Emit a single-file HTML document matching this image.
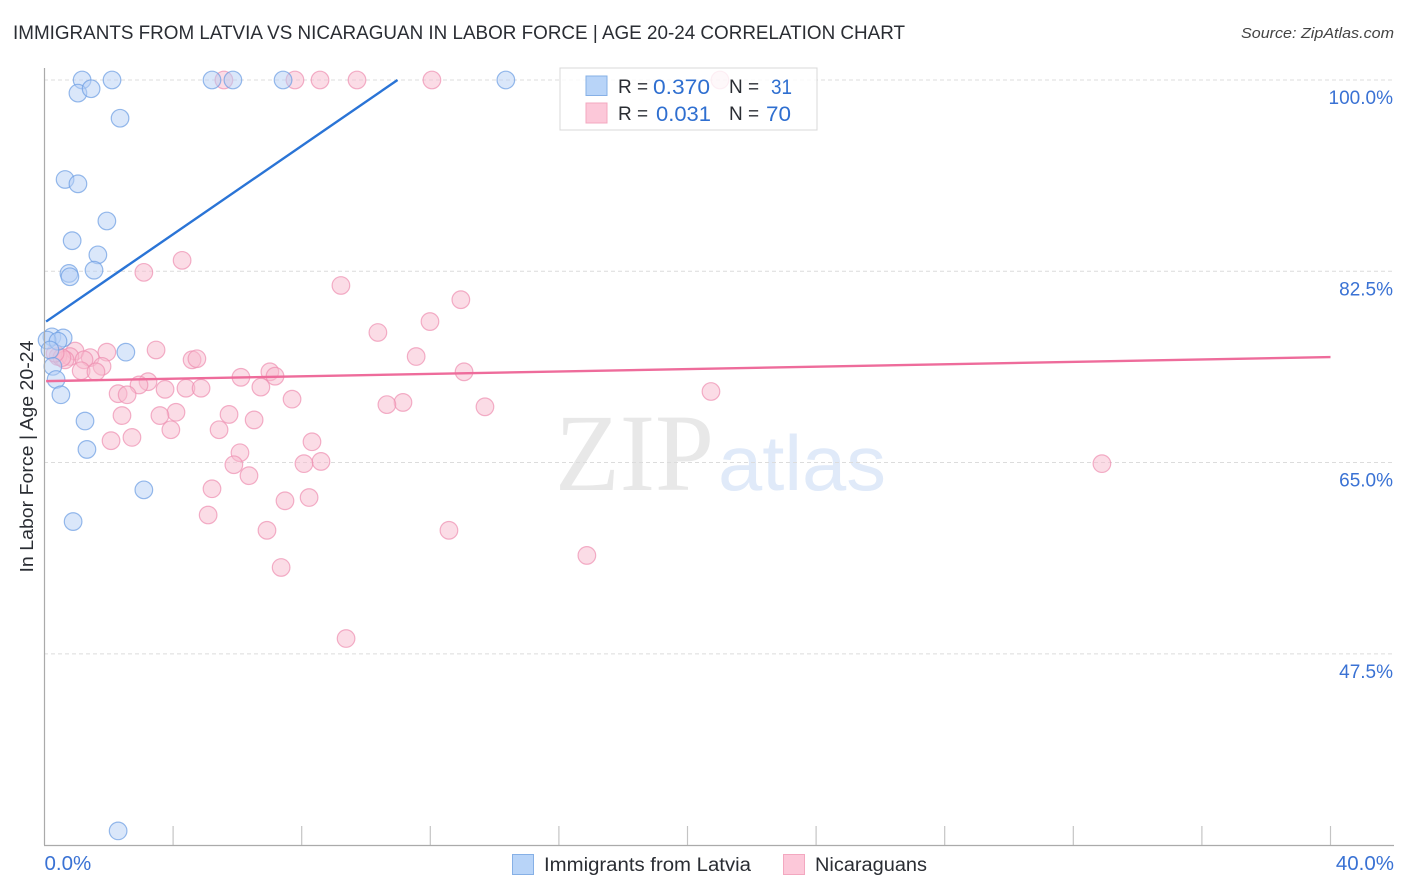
<!DOCTYPE html>
<html><head><meta charset="utf-8"><title>Immigrants from Latvia vs Nicaraguan in Labor Force</title>
<style>
html,body{margin:0;padding:0;background:#fff;}
svg{display:block;font-family:"Liberation Sans",sans-serif;}
</style></head>
<body>
<svg id="chart" width="1406" height="892" viewBox="0 0 1406 892" xmlns="http://www.w3.org/2000/svg">
<rect x="0" y="0" width="1406" height="892" fill="#fff"/>
<text x="13" y="39" font-size="19" fill="#2a2d33" textLength="892" lengthAdjust="spacingAndGlyphs">IMMIGRANTS FROM LATVIA VS NICARAGUAN IN LABOR FORCE | AGE 20-24 CORRELATION CHART</text>
<text x="1241" y="38" font-size="15" font-style="italic" fill="#444" textLength="153" lengthAdjust="spacingAndGlyphs">Source: ZipAtlas.com</text>
<text x="555" y="490" font-family="'Liberation Serif',serif" font-size="110" fill="#e8e8e8" textLength="159" lengthAdjust="spacingAndGlyphs">ZIP</text>
<text x="718" y="490" font-family="'Liberation Sans',sans-serif" font-size="78" fill="#e0eaf9" textLength="168" lengthAdjust="spacingAndGlyphs">atlas</text>
<g id="grid"></g>
<g id="pink-layer"></g>
<g id="blue-layer"></g>
<g id="trend-layer"></g>
<g id="axes"></g>
<text transform="translate(33,456.5) rotate(-90)" text-anchor="middle" font-size="18" fill="#2a2d33" textLength="232" lengthAdjust="spacingAndGlyphs">In Labor Force | Age 20-24</text>
<g>
<rect x="560" y="68" width="257" height="62" fill="#fff" fill-opacity="0.8" stroke="#d8d8d8" stroke-width="1"/>
<rect x="586" y="76" width="21" height="19.5" fill="#b8d4f8" stroke="#86b0e6"/>
<rect x="586" y="103" width="21" height="20" fill="#fcc8d9" stroke="#f3a8c0"/>
<text x="618" y="93" font-size="19" fill="#2a2d33">R =</text>
<text x="653" y="94" font-size="21" fill="#2f6fd0" textLength="57" lengthAdjust="spacingAndGlyphs">0.370</text>
<text x="729" y="93" font-size="19" fill="#2a2d33">N =</text>
<text x="771" y="94" font-size="21" fill="#2f6fd0" textLength="21" lengthAdjust="spacingAndGlyphs">31</text>
<text x="618" y="120" font-size="19" fill="#2a2d33">R =</text>
<text x="656" y="121" font-size="21" fill="#2f6fd0" textLength="55" lengthAdjust="spacingAndGlyphs">0.031</text>
<text x="729" y="120" font-size="19" fill="#2a2d33">N =</text>
<text x="766" y="121" font-size="21" fill="#2f6fd0" textLength="25" lengthAdjust="spacingAndGlyphs">70</text>
</g>
<g>
<rect x="512.5" y="854.5" width="21" height="20" fill="#b8d4f8" stroke="#86b0e6"/>
<text x="544" y="871" font-size="19" fill="#2a2d33" textLength="207" lengthAdjust="spacingAndGlyphs">Immigrants from Latvia</text>
<rect x="783.5" y="854.5" width="21" height="20" fill="#fcc8d9" stroke="#f3a8c0"/>
<text x="815" y="871" font-size="19" fill="#2a2d33" textLength="112" lengthAdjust="spacingAndGlyphs">Nicaraguans</text>
</g>
</svg>
<script>
const latviaX = [1.17,2.10,5.21,5.86,7.42,14.35,1.04,1.45,2.35,0.64,1.04,1.94,0.86,1.66,1.54,0.76,0.79,0.23,0.58,0.08,0.42,2.53,0.17,0.26,0.36,0.51,1.26,1.32,3.09,0.89,2.29];
const latviaY = [100,100,100,100,100,100,98.8,99.2,96.5,90.9,90.5,87.1,85.3,84.0,82.6,82.3,82.0,76.5,76.4,76.2,76.1,75.1,75.3,73.8,72.6,71.2,68.8,66.2,62.5,59.6,31.3];
const nicaraguansX = [5.58,7.79,8.57,9.72,12.05,21.01,3.09,4.28,9.22,12.95,11.99,10.37,11.56,13.05,20.73,13.70,11.15,10.65,3.47,0.95,1.94,0.42,0.79,1.42,1.23,4.59,4.74,1.79,1.14,1.60,6.11,7.01,7.17,3.22,2.94,3.75,4.40,4.87,6.73,7.70,2.29,2.57,4.09,3.59,2.41,5.74,6.52,3.93,5.43,2.72,2.07,8.32,6.08,8.60,8.07,5.89,6.36,5.21,8.23,7.48,5.09,6.92,12.58,16.87,7.36,9.38,32.89,0.64,0.54,0.33];
const nicaraguansY = [100,100,100,100,100,100,82.4,83.5,81.2,79.9,77.9,76.9,74.7,73.3,71.5,70.1,70.5,70.3,75.3,75.2,75.1,74.7,74.7,74.6,74.4,74.4,74.5,73.8,73.4,73.3,72.8,73.3,72.9,72.4,72.1,71.7,71.8,71.8,71.9,70.8,71.3,71.2,69.6,69.3,69.3,69.4,68.9,68.0,68.0,67.3,67.0,66.9,65.9,65.1,64.9,64.8,63.8,62.6,61.8,61.5,60.2,58.8,58.8,56.5,55.4,48.9,64.9,74.4,74.6,75.0];
const latviaTrendX = [0.05,10.98];
const latviaTrendY = [77.9,100];
const nicaraguansTrendX = [0.05,40];
const nicaraguansTrendY = [72.45,74.65];
const yTicks = [100,82.5,65,47.5];
const yTickLabels = ["100.0%","82.5%","65.0%","47.5%"];
const xTicks = [4,8,12,16,20,24,28,32,36,40];
const xEndTicks = [0,40];
const xEndLabels = ["0.0%","40.0%"];

const NS = "http://www.w3.org/2000/svg";
function xScale(v){ return 44.5 + v * 32.15; }
function yScale(v){ return 80 + (100 - v) * 10.93; }
function make(tag, attrs, parent){
  const el = document.createElementNS(NS, tag);
  for (const k in attrs) el.setAttribute(k, attrs[k]);
  parent.appendChild(el);
  return el;
}
const grid = document.getElementById("grid");
const axes = document.getElementById("axes");
yTicks.forEach(function(t, i){
  const line = make("line", {x1:44, x2:1394, y1:yScale(t), y2:yScale(t), stroke:"#dcdcdc", "stroke-width":1, "stroke-dasharray":"4 3"}, grid);
  
  
  const label = make("text", {x:1393, y:yScale(t) + 24, "text-anchor":"end", "font-size":19, fill:"#3a72d4"}, axes);
  label.textContent = yTickLabels[i];
  
  
});
xTicks.forEach(function(t){
  const tick = make("line", {x1:xScale(t), x2:xScale(t), y1:826, y2:845, stroke:"#c4c4c4", "stroke-width":1.2}, axes);
  
  
});
const yAxis = make("line", {x1:44.5, x2:44.5, y1:68, y2:845, stroke:"#aaa", "stroke-width":1.2}, axes);


const xAxis = make("line", {x1:44, x2:1394, y1:845.5, y2:845.5, stroke:"#aaa", "stroke-width":1.2}, axes);


xEndTicks.forEach(function(t, i){
  const label = make("text", {x: i === 0 ? xScale(t) : 1394, y:870, "text-anchor": i === 0 ? "start" : "end", "font-size":20.5, fill:"#3a72d4"}, axes);
  label.textContent = xEndLabels[i];
  
  
});
function drawPoints(xs, ys, layerId, fill, stroke){
  const layer = document.getElementById(layerId);
  xs.forEach(function(x, i){
    const c = make("circle", {cx:xScale(x), cy:yScale(ys[i]), r:8.8, fill:fill, "fill-opacity":0.5, stroke:stroke, "stroke-opacity":0.7, "stroke-width":1.2}, layer);
    
    
  });
}
drawPoints(nicaraguansX, nicaraguansY, "pink-layer", "#f7b9cd", "#ee8fb0");
drawPoints(latviaX, latviaY, "blue-layer", "#b6d0f5", "#6b9de3");
const trends = document.getElementById("trend-layer");
const blueTrend = make("line", {x1:xScale(latviaTrendX[0]), y1:yScale(latviaTrendY[0]), x2:xScale(latviaTrendX[1]), y2:yScale(latviaTrendY[1]), stroke:"#2a74d6", "stroke-width":2.4}, trends);


const pinkTrend = make("line", {x1:xScale(nicaraguansTrendX[0]), y1:yScale(nicaraguansTrendY[0]), x2:xScale(nicaraguansTrendX[1]), y2:yScale(nicaraguansTrendY[1]), stroke:"#ee6c9b", "stroke-width":2.4}, trends);


</script>
</body></html>
